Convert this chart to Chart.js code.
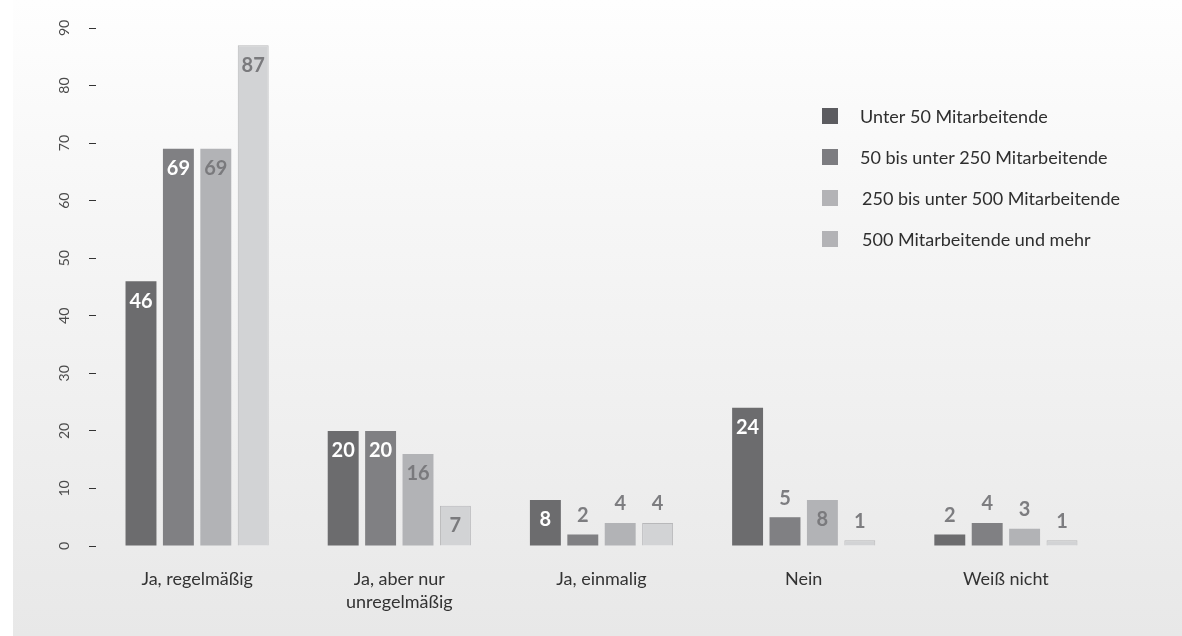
<!DOCTYPE html>
<html>
<head>
<meta charset="utf-8">
<script src="https://cdn.jsdelivr.net/npm/chart.js@4"></script>
<style>
  html, body { margin: 0; padding: 0; background: #fff; }
  #wrap { width: 1182px; height: 636px; }
</style>
</head>
<body>
<div id="wrap"><canvas id="chart" width="1182" height="636"></canvas></div>
<script>
/* Balkendiagramm nach Unternehmensgröße */

const categories = ['Ja, regelmäßig', ['Ja, aber nur', 'unregelmäßig'], 'Ja, einmalig', 'Nein', 'Weiß nicht'];
const seriesNames = ['Unter 50 Mitarbeitende', '50 bis unter 250 Mitarbeitende', '250 bis unter 500 Mitarbeitende', '500 Mitarbeitende und mehr'];
const unter50 = [46, 20, 8, 24, 2];
const bis250 = [69, 20, 2, 5, 4];
const bis500 = [69, 16, 4, 8, 3];
const ab500 = [87, 7, 4, 1, 1];
const yTicks = [0, 10, 20, 30, 40, 50, 60, 70, 80, 90];

const barColors = ['#6c6c6e', '#808083', '#b2b3b6', '#d2d3d5'];
const swatchColors = ['#5c5c60', '#7c7c80', '#b3b3b6', '#b3b3b6'];
const FONT = 'Lato, "Open Sans", sans-serif';

// Hintergrund mit leichtem Verlauf
const bgPlugin = {
    id: 'bg',
    beforeDraw(chart) {
        const ctx = chart.ctx;
        const g = ctx.createLinearGradient(0, 0, 0, chart.height);
        g.addColorStop(0, '#fefefe');
        g.addColorStop(0.3, '#f7f7f7');
        g.addColorStop(1, '#e8e8e8');
        ctx.save();
        ctx.fillStyle = g;
        ctx.fillRect(13, 0, chart.width - 13, chart.height);
        ctx.restore();
    }
};

// Werte an den Balken
const valuePlugin = {
    id: 'values',
    afterDatasetsDraw(chart) {
        const ctx = chart.ctx;
        ctx.save();
        ctx.font = 'bold 20px ' + FONT;
        ctx.textAlign = 'center';
        ctx.textBaseline = 'middle';
        chart.data.datasets.forEach((ds, di) => {
            const meta = chart.getDatasetMeta(di);
            meta.data.forEach((bar, i) => {
                const v = ds.data[i];
                if (v >= 7) {
                    ctx.fillStyle = di < 2 ? '#ffffff' : '#7a7a7d';
                    ctx.fillText(String(v), bar.x, bar.y + 20);
                } else {
                    ctx.fillStyle = '#7d7d80';
                    ctx.fillText(String(v), bar.x, bar.y - 19);
                }
            });
        });
        ctx.restore();
    }
};

// Legende oben rechts
const legendPlugin = {
    id: 'customLegend',
    afterDraw(chart) {
        const ctx = chart.ctx;
        ctx.save();
        ctx.font = '18px ' + FONT;
        ctx.textBaseline = 'middle';
        ctx.textAlign = 'left';
        seriesNames.forEach((name, i) => {
            const y = 116 + i * 41;
            ctx.fillStyle = swatchColors[i];
            ctx.fillRect(822, y - 8, 16, 16);
            ctx.fillStyle = '#2e2e2e';
            ctx.fillText(name, i < 2 ? 860 : 862, y + 1);
        });
        ctx.restore();
    }
};

const seriesData = [unter50, bis250, bis500, ab500];

new Chart(document.getElementById('chart').getContext('2d'), {
    type: 'bar',
    data: {
        labels: categories,
        datasets: seriesData.map((d, i) => ({
            label: seriesNames[i],
            data: d,
            backgroundColor: barColors[i],
            borderColor: i === 3 ? '#b8b8ba' : barColors[i],
            borderWidth: i === 3 ? 1 : 0,
            categoryPercentage: 0.74,
            barPercentage: 0.827,
        }))
    },
    options: {
        responsive: false,
        animation: false,
        devicePixelRatio: 1,
        layout: { padding: { top: 28, right: 75, bottom: 0, left: 0 } },
        plugins: {
            legend: { display: false },
            tooltip: { enabled: false },
        },
        scales: {
            x: {
                grid: { display: false },
                border: { display: false },
                ticks: { color: '#333', font: { family: FONT, size: 18, lineHeight: 1.3 }, padding: 13, maxRotation: 0 },
                afterFit(s) { s.height = 90; }
            },
            y: {
                min: 0,
                max: 90,
                afterBuildTicks(s) { s.ticks = yTicks.map(v => ({ value: v })); },
                ticks: {
                    minRotation: 90, maxRotation: 90, crossAlign: 'center', padding: 16,
                    color: '#4a4a4a', font: { family: FONT, size: 14 }
                },
                grid: { drawOnChartArea: false, drawTicks: true, tickLength: 7, color: '#333' },
                border: { display: false },
                afterFit(s) { s.width = 96; }
            }
        }
    },
    plugins: [bgPlugin, valuePlugin, legendPlugin]
});
</script>
</body>
</html>
